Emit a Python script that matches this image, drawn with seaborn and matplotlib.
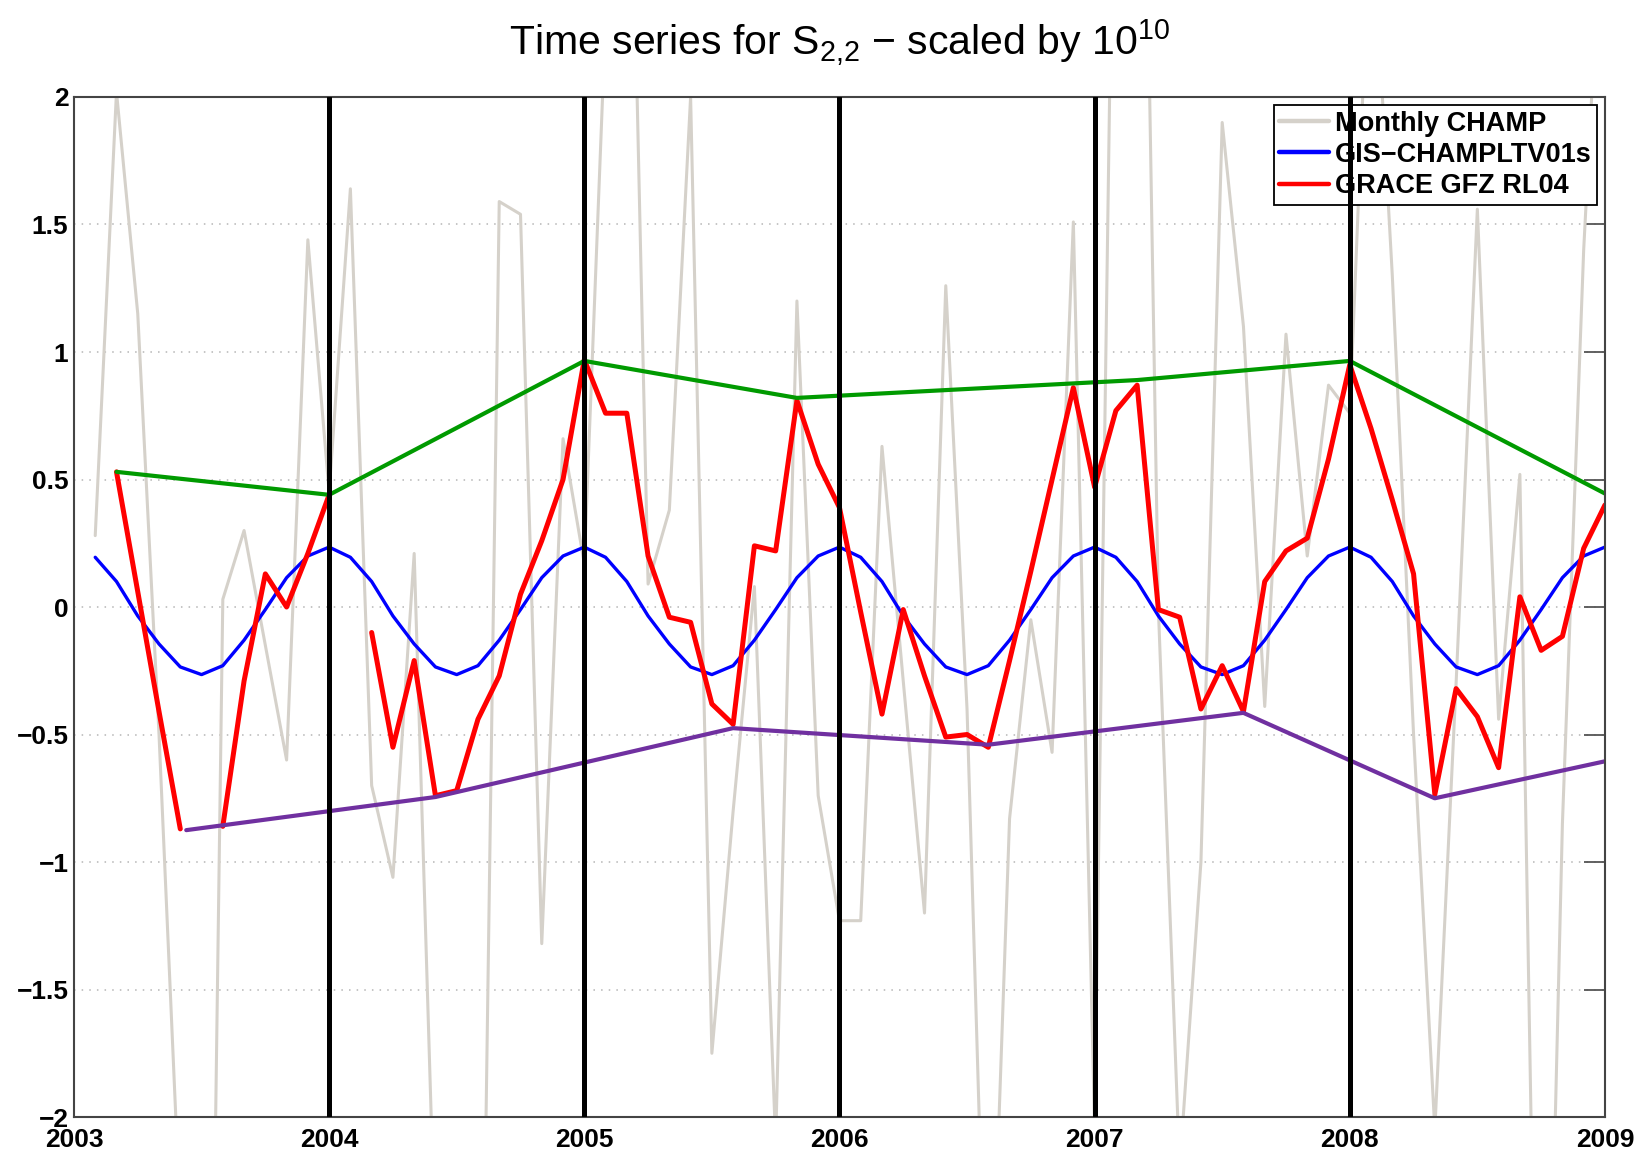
import numpy as np
import seaborn as sns
import matplotlib.pyplot as plt
from matplotlib import font_manager

# monthly time axis, Feb 2003 .. Jan 2009
months = 2003 + np.arange(1, 73) / 12

# monthly CHAMP solution (very noisy, goes off the axis)
champ_monthly = [
    0.28, 2.02, 1.15, -0.50, -2.40, -6.00, 0.03, 0.30, -0.15, -0.60, 1.44, 0.45,
    1.64, -0.70, -1.06, 0.21, -2.55, -3.50, -4.20, 1.59, 1.54, -1.32, 0.66, 0.17,
    2.30, 3.80, 0.09, 0.38, 2.00, -1.75, -0.80, 0.08, -2.10, 1.20, -0.74, -1.23,
    -1.23, 0.63, -0.29, -1.20, 1.26, -0.40, -3.20, -0.83, -0.05, -0.57, 1.51, -2.05,
    3.70, 4.90, -0.01, -2.20, -1.00, 1.90, 1.10, -0.39, 1.07, 0.20, 0.87, 0.76,
    2.80, 1.30, -0.50, -2.05, -0.30, 1.56, -0.44, 0.52, -4.30, -0.85, 1.40, 3.00,
]

# GIS-CHAMPLTV01s model
gis_champ = [
    0.195, 0.10, -0.035, -0.145, -0.235, -0.265, -0.23, -0.13, -0.01, 0.115, 0.20, 0.235,
    0.195, 0.10, -0.035, -0.145, -0.235, -0.265, -0.23, -0.13, -0.01, 0.115, 0.20, 0.235,
    0.195, 0.10, -0.035, -0.145, -0.235, -0.265, -0.23, -0.13, -0.01, 0.115, 0.20, 0.235,
    0.195, 0.10, -0.035, -0.145, -0.235, -0.265, -0.23, -0.13, -0.01, 0.115, 0.20, 0.235,
    0.195, 0.10, -0.035, -0.145, -0.235, -0.265, -0.23, -0.13, -0.01, 0.115, 0.20, 0.235,
    0.195, 0.10, -0.035, -0.145, -0.235, -0.265, -0.23, -0.13, -0.01, 0.115, 0.20, 0.235,
]

# GRACE GFZ RL04 (nan = missing month)
grace_gfz = [
    np.nan, 0.53, 0.06, -0.41, -0.87, np.nan, -0.86, -0.29, 0.13, 0.00, 0.21, 0.44,
    np.nan, -0.10, -0.55, -0.21, -0.74, -0.72, -0.44, -0.27, 0.05, 0.26, 0.50, 0.97,
    0.76, 0.76, 0.20, -0.04, -0.06, -0.38, -0.46, 0.24, 0.22, 0.81, 0.56, 0.39,
    -0.02, -0.42, -0.01, -0.27, -0.51, -0.50, -0.55, -0.21, 0.14, 0.50, 0.86, 0.47,
    0.77, 0.87, -0.01, -0.04, -0.40, -0.23, -0.41, 0.10, 0.22, 0.27, 0.58, 0.95,
    0.70, 0.42, 0.13, -0.735, -0.32, -0.43, -0.63, 0.04, -0.17, -0.115, 0.23, 0.40,
]

# envelopes of the GRACE series
upper_x = [2003.167, 2004.0, 2005.0, 2005.833, 2007.167, 2008.0, 2009.0]
upper_y = [0.53, 0.44, 0.965, 0.82, 0.89, 0.965, 0.445]
lower_x = [2003.44, 2004.417, 2005.583, 2006.583, 2007.583, 2008.333, 2009.0]
lower_y = [-0.875, -0.745, -0.475, -0.54, -0.415, -0.75, -0.605]

year_ticks = [2003, 2004, 2005, 2006, 2007, 2008, 2009]
year_lines = [2004, 2005, 2006, 2007, 2008]
y_ticks = [-2, -1.5, -1, -0.5, 0, 0.5, 1, 1.5, 2]
y_tick_labels = ["\u22122", "\u22121.5", "\u22121", "\u22120.5", "0", "0.5", "1", "1.5", "2"]

sns.set_style("white")
installed = {f.name for f in font_manager.fontManager.ttflist}
narrow = "Liberation Sans Narrow" if "Liberation Sans Narrow" in installed else "Liberation Sans"
plt.rcParams["font.family"] = ["Liberation Sans", "DejaVu Sans"]
plt.rcParams["mathtext.fontset"] = "custom"
plt.rcParams["mathtext.rm"] = narrow
plt.rcParams["mathtext.it"] = narrow
plt.rcParams["text.color"] = "black"
plt.rcParams["xtick.color"] = "black"
plt.rcParams["ytick.color"] = "black"

fig = plt.figure(figsize=(16.51, 11.56), dpi=100)
ax = fig.add_axes([0.0448, 0.0337, 0.9273, 0.8824])

# grey monthly CHAMP
sns.lineplot(x=months, y=champ_monthly, ax=ax, color="#d5d1ca", linewidth=2.2,
             estimator=None, sort=False, legend=False)
h_champ = ax.lines[-1]

# blue model
sns.lineplot(x=months, y=gis_champ, ax=ax, color="#0000ff", linewidth=2.4,
             estimator=None, sort=False, legend=False)
h_gis = ax.lines[-1]

# red GRACE, drawn piece by piece so the gaps stay open
grace = np.array(grace_gfz)
ok = ~np.isnan(grace)
start = None
h_grace = None
for i in range(len(grace) + 1):
    if i < len(grace) and ok[i]:
        if start is None:
            start = i
    elif start is not None:
        sns.lineplot(x=months[start:i], y=grace[start:i], ax=ax, color="#ff0000",
                     linewidth=3.6, estimator=None, sort=False, legend=False)
        if h_grace is None:
            h_grace = ax.lines[-1]
        start = None

# envelopes
sns.lineplot(x=upper_x, y=upper_y, ax=ax, color="#009a00", linewidth=3.0,
             estimator=None, sort=False, legend=False)
sns.lineplot(x=lower_x, y=lower_y, ax=ax, color="#7030a0", linewidth=3.0,
             estimator=None, sort=False, legend=False)

# year separators sit on top of everything, legend included
for yr in year_lines:
    ax.axvline(yr, color="black", linewidth=3.6, zorder=10)

ax.set_xlim(2003, 2009)
ax.set_ylim(-2, 2)
ax.set_xticks(year_ticks, labels=[str(y) for y in year_ticks],
              fontweight="bold", fontsize=19, color="black")
ax.set_yticks(y_ticks, labels=y_tick_labels, fontweight="bold", fontsize=19,
              color="black")
ax.tick_params(axis="both", direction="in", length=15, width=1.3, color="#555555",
               top=True, right=True)
ax.tick_params(axis="x", pad=8)
ax.tick_params(axis="y", pad=4)
ax.set_xlabel("")
ax.set_ylabel("")

ax.set_axisbelow(True)
ax.yaxis.grid(True, linestyle=(0, (1, 4)), color="#b5b5b5", linewidth=1.1)
ax.xaxis.grid(False)
for sp in ax.spines.values():
    sp.set_color("#444444")
    sp.set_linewidth(1.5)

leg = ax.legend([h_champ, h_gis, h_grace],
                ["Monthly CHAMP", "GIS\u2212CHAMPLTV01s", "GRACE GFZ RL04"],
                loc="upper right", prop={"weight": "bold", "size": 19.5},
                frameon=True, fancybox=False, framealpha=1, edgecolor="black",
                handlelength=1.85, handletextpad=0.2, borderpad=0.2,
                labelspacing=0.2, borderaxespad=0.3)
leg.get_frame().set_linewidth(1.3)
for ln in leg.get_lines():
    ln.set_linewidth(3.2)
for t in leg.get_texts():
    t.set_color("black")

fig.text(0.5088, 1 - 55 / 1156,
         r"Time series for S$_{2{,}2}$ $-$ scaled by 10$^{10}$",
         ha="center", va="baseline", fontsize=29.5, family=narrow, color="black")

fig.savefig("out.png", dpi=100)
